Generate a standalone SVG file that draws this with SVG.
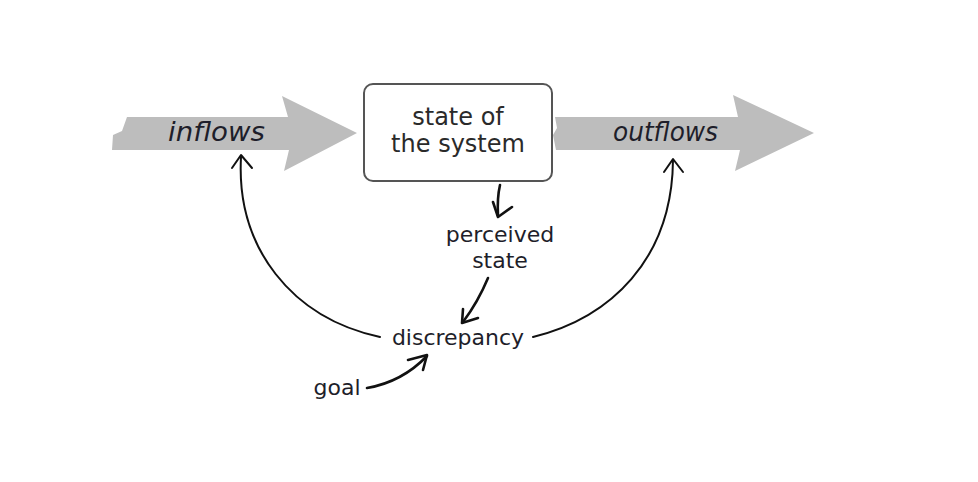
<svg xmlns="http://www.w3.org/2000/svg" width="978" height="482" viewBox="0 0 978 482">
<defs>
<style>
.flow{fill:#bdbdbd;stroke:none}
.flowtxt{font-family:"DejaVu Sans",sans-serif;font-style:italic;font-size:27px;fill:#1e1e2a}
.lbl{font-family:"DejaVu Sans",sans-serif;font-size:22px;fill:#1e1e2a;text-anchor:middle}
.boxtxt{font-family:"DejaVu Sans",sans-serif;font-size:24px;fill:#2a2a2a;text-anchor:middle}
.conn{fill:none;stroke:#111;stroke-width:2;stroke-linecap:round;stroke-linejoin:round}
.thick{stroke-width:2.6}
</style>
</defs>
<rect width="978" height="482" fill="#ffffff"/>

<g id="inflows">
<polygon class="flow" points="127,117 288,117 282,96 357,133 284,171 289,150 112,150 113,135 122,131"/>
<text x="168" y="141" class="flowtxt" textLength="97" lengthAdjust="spacingAndGlyphs">inflows</text>
</g>

<g id="outflows">
<polygon class="flow" points="555,117 738,117 733,95 814,133 735,171 740,150 556,150 553,135 557,128"/>
<text x="613" y="141" class="flowtxt" textLength="105" lengthAdjust="spacingAndGlyphs">outflows</text>
</g>

<g id="state">
<rect x="364" y="84" width="188" height="97" rx="9" ry="9" fill="#fff" stroke="#555" stroke-width="2"/>
<text x="458" y="125" class="boxtxt">state of</text>
<text x="458" y="152" class="boxtxt">the system</text>
</g>

<g id="perceived">
<text x="500" y="242" class="lbl">perceived</text>
<text x="500" y="268" class="lbl">state</text>
</g>

<g id="discrepancy">
<text x="458" y="345" class="lbl">discrepancy</text>
</g>

<g id="goal">
<text x="337" y="395" class="lbl">goal</text>
</g>

<g id="connectors">
<path class="conn thick" d="M500,185 Q497,198 498,216"/>
<path class="conn thick" d="M493,202 L498,217 L512,207"/>
<path class="conn thick" d="M488,278 Q478,302 463,322"/>
<path class="conn thick" d="M463,309 L462,323 L478,318"/>
<path class="conn thick" d="M367,388 Q402,382 427,356"/>
<path class="conn thick" d="M408,360 L427,355 L423,370"/>
<path class="conn" d="M380,337 C292,318 236,248 241,157"/>
<path class="conn" d="M232,168 L241,155 L252,168"/>
<path class="conn" d="M533,337 C610,318 672,260 673,160"/>
<path class="conn" d="M664,172 L673,159 L683,172"/>
</g>
</svg>
